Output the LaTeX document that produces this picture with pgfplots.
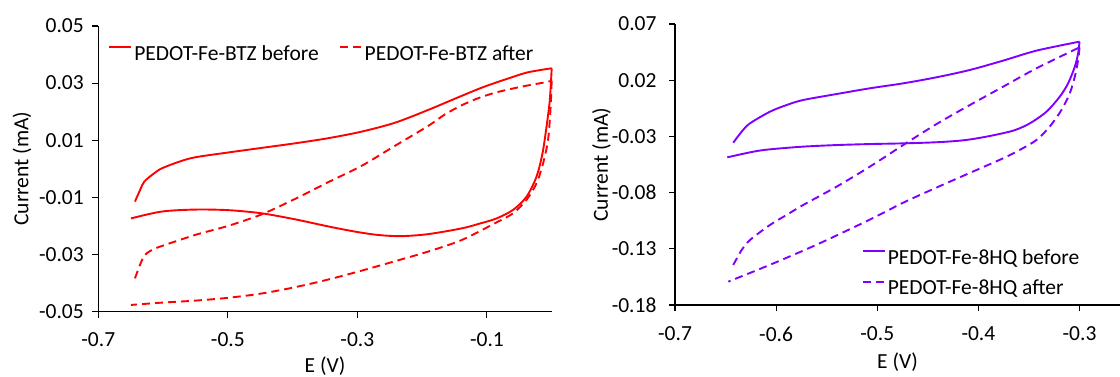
\documentclass[border=0pt]{standalone}
\usepackage{pgfplots}
\pgfplotsset{compat=1.18}
\usepackage{fontspec}
\setmainfont{Carlito}
\definecolor{cvred}{RGB}{255,0,0}
\definecolor{cvviolet}{RGB}{127,0,255}
\newcommand{\cvfont}{\fontsize{21.5}{26}\selectfont}
\pgfplotsset{
  cvstyle/.style={
    scale only axis,
    axis x line*=bottom, axis y line*=left,
    axis line style={line width=1.1pt, -, black},
    tick align=outside,
    major tick length=6pt,
    every tick/.style={black, line width=1.1pt},
    tick label style={font=\cvfont},
    xticklabel style={yshift=-12pt},
    label style={font=\cvfont},
    scaled ticks=false,
    clip=false,
    legend style={font=\cvfont, draw=none, fill=none, inner sep=0pt},
    legend cell align=left,
    legend image code/.code={\draw[##1] (0pt,6.5pt) -- (22pt,6.5pt);},
  },
  solidline/.style={line width=1.9pt, line join=round, smooth, tension=0.5},
  dashline/.style={line width=1.9pt, dash pattern=on 8pt off 5pt, smooth, tension=0.5},
}
\begin{document}
\begin{tikzpicture}
\useasboundingbox (0,0) rectangle (1120pt,376pt);
% ---------------- left panel ----------------
\begin{axis}[cvstyle,
  at={(98.3pt,64.5pt)}, anchor=south west,
  width=453.4pt, height=285.5pt,
  xmin=-0.7, xmax=0, ymin=-0.05, ymax=0.05,
  xtick={-0.7,-0.5,-0.3,-0.1}, xticklabels={-0.7,-0.5,-0.3,-0.1},
  ytick={-0.05,-0.03,-0.01,0.01,0.03,0.05},
  yticklabels={-0.05,-0.03,-0.01,0.01,0.03,0.05},
  yticklabel style={xshift=-5pt},
  xlabel={E (V)}, ylabel={Current (mA)},
  xlabel style={at={([yshift=-60.5pt]axis description cs:0.5,0)}, anchor=base},
  ylabel style={at={([xshift=-69.8pt]axis description cs:0,0.5)}, anchor=base},
  legend columns=2,
  legend style={at={(axis description cs:0.022,0.903)}, anchor=west,
    /tikz/every even column/.append style={column sep=18pt}},
]
\addplot[cvred, solidline] coordinates {
(-0.6434,-0.0115) (-0.6350,-0.0072) (-0.6290,-0.0045) (-0.6150,-0.0018) (-0.6023,0.0001)
(-0.5760,0.0024) (-0.5508,0.0040) (-0.4994,0.0057) (-0.4480,0.0073) (-0.3965,0.0089)
(-0.3450,0.0107) (-0.2936,0.0130) (-0.2422,0.0161) (-0.1907,0.0206) (-0.1393,0.0255)
(-0.1033,0.0288) (-0.0621,0.0320) (-0.0364,0.0338) (0.0000,0.0352)
};
\addlegendentry{PEDOT-Fe-BTZ before}
\addplot[cvred, solidline, forget plot] coordinates {
(0.0000,0.0352)
(-0.0029,0.0241) (-0.0080,0.0147) (-0.0142,0.0054) (-0.0235,-0.0028) (-0.0389,-0.0098)
(-0.0596,-0.0144) (-0.0852,-0.0174) (-0.1110,-0.0192) (-0.1393,-0.0209) (-0.1907,-0.0229)
(-0.2319,-0.0236) (-0.2679,-0.0232) (-0.3039,-0.0220) (-0.3450,-0.0202) (-0.3965,-0.0177)
(-0.4480,-0.0156) (-0.4994,-0.0145) (-0.5508,-0.0143) (-0.6023,-0.0150) (-0.6496,-0.0174)
};
\addplot[cvred, dashline] coordinates {
(-0.6434,-0.0384) (-0.6357,-0.0337) (-0.6280,-0.0302) (-0.6151,-0.0282) (-0.6023,-0.0271)
(-0.5508,-0.0232) (-0.4994,-0.0200) (-0.4480,-0.0160) (-0.3965,-0.0106) (-0.3450,-0.0047)
(-0.2936,0.0010) (-0.2422,0.0080) (-0.1907,0.0150) (-0.1650,0.0190) (-0.1393,0.0222)
(-0.1136,0.0247) (-0.0879,0.0266) (-0.0621,0.0280) (-0.0364,0.0292) (-0.0120,0.0302)
(0.0000,0.0308)
};
\addlegendentry{PEDOT-Fe-BTZ after}
\addplot[cvred, dashline, forget plot] coordinates {
(0.0000,0.0308)
(-0.0019,0.0206) (-0.0056,0.0101) (-0.0133,0.0019) (-0.0235,-0.0051) (-0.0389,-0.0109)
(-0.0596,-0.0156) (-0.0852,-0.0188) (-0.1393,-0.0250) (-0.1907,-0.0290) (-0.2422,-0.0324)
(-0.2936,-0.0357) (-0.3450,-0.0388) (-0.3965,-0.0415) (-0.4480,-0.0437) (-0.4994,-0.0452)
(-0.5508,-0.0462) (-0.6023,-0.0469) (-0.6496,-0.0477)
};
\end{axis}
% ---------------- right panel ----------------
\begin{axis}[cvstyle,
  at={(675pt,71pt)}, anchor=south west,
  width=445pt, height=281pt,
  xmin=-0.7, xmax=-0.26, ymin=-0.18, ymax=0.07,
  xtick={-0.7,-0.6,-0.5,-0.4,-0.3}, xticklabels={-0.7,-0.6,-0.5,-0.4,-0.3},
  ytick={-0.18,-0.13,-0.08,-0.03,0.02,0.07},
  yticklabels={-0.18,-0.13,-0.08,-0.03,0.02,0.07},
  yticklabel style={xshift=-9pt},
  xlabel={E (V)}, ylabel={Current (mA)},
  xlabel style={at={([yshift=-63.4pt]axis description cs:0.5,0)}, anchor=base},
  ylabel style={at={([xshift=-67.2pt]axis description cs:0,0.5)}, anchor=base},
  legend style={at={(axis description cs:0.4196,0.114)}, anchor=west, row sep=10pt},
]
\addplot[cvviolet, solidline] coordinates {
(-0.6424,-0.0356) (-0.6341,-0.0258) (-0.6259,-0.0184) (-0.6061,-0.0080) (-0.5897,-0.0021)
(-0.5732,0.0024) (-0.5402,0.0077) (-0.5073,0.0128) (-0.4744,0.0172) (-0.4414,0.0226)
(-0.4085,0.0291) (-0.3756,0.0374) (-0.3426,0.0463) (-0.3000,0.0543)
};
\addlegendentry{PEDOT-Fe-8HQ before}
\addplot[cvviolet, solidline, forget plot] coordinates {
(-0.3000,0.0543)
(-0.3014,0.0439) (-0.3047,0.0320) (-0.3113,0.0172) (-0.3196,0.0053) (-0.3327,-0.0080)
(-0.3492,-0.0184) (-0.3657,-0.0249) (-0.3920,-0.0302) (-0.4151,-0.0335) (-0.4414,-0.0352)
(-0.4744,-0.0362) (-0.5073,-0.0368) (-0.5402,-0.0377) (-0.5732,-0.0391) (-0.6061,-0.0415)
(-0.6226,-0.0436) (-0.6483,-0.0486)
};
\addplot[cvviolet, dashline] coordinates {
(-0.6424,-0.1444) (-0.6341,-0.1311) (-0.6259,-0.1222) (-0.6061,-0.1088) (-0.5897,-0.0999)
(-0.5732,-0.0910) (-0.5402,-0.0747) (-0.5073,-0.0569) (-0.4744,-0.0377) (-0.4414,-0.0190)
(-0.4085,-0.0021) (-0.3756,0.0142) (-0.3426,0.0306) (-0.3000,0.0492)
};
\addlegendentry{PEDOT-Fe-8HQ after}
\addplot[cvviolet, dashline, forget plot] coordinates {
(-0.3000,0.0492)
(-0.3014,0.0380) (-0.3047,0.0231) (-0.3097,0.0083) (-0.3179,-0.0065) (-0.3295,-0.0213)
(-0.3426,-0.0332) (-0.3591,-0.0420) (-0.3756,-0.0495) (-0.4085,-0.0625) (-0.4414,-0.0755)
(-0.4744,-0.0890) (-0.5073,-0.1040) (-0.5567,-0.1250) (-0.5962,-0.1405) (-0.6226,-0.1503)
(-0.6473,-0.1592)
};
\end{axis}
\end{tikzpicture}
\end{document}
